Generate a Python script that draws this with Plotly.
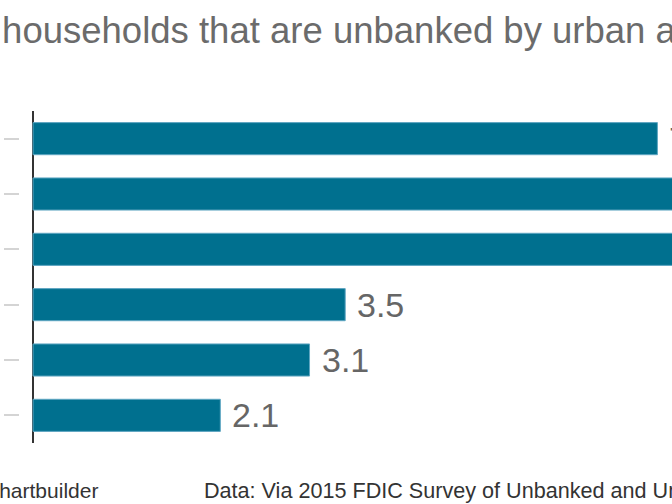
import plotly.graph_objects as go

# Data (top to bottom)
categories = ["Rural", "Principal city", "Small town", "Suburban", "Exurban", "Metro balance"]
values = [7.0, 9.0, 8.6, 3.5, 3.1, 2.1]
value_labels = ["7.0", "9.0", "8.6", "3.5", "3.1", "2.1"]

title_text = "Share of households that are unbanked by urban and rural area"
credit_text = "Chartbuilder"
source_text = "Data: Via 2015 FDIC Survey of Unbanked and Underbanked Households"

W, H = 672, 504
ML, MR, MT, MB = 20, 0, 111, 61
px_per_unit = 89.2
zero_px = 33
x_min = -(zero_px - ML) / px_per_unit
x_max = (W - zero_px) / px_per_unit

FONT = "Liberation Sans, Arial, Helvetica, sans-serif"

fig = go.Figure()
fig.add_trace(go.Bar(
    x=values, y=categories, orientation="h",
    marker=dict(color="#00708f", line=dict(color="#5fa6c2", width=1)),
    hoverinfo="x+y",
))

annotations = []
for v, c, t in zip(values, categories, value_labels):
    annotations.append(dict(
        x=v, y=c, xref="x", yref="y", text=t, showarrow=False,
        xanchor="left", yanchor="middle", xshift=10,
        font=dict(family=FONT, size=34, color="#666666"),
    ))

def px_shift(px):
    return px - ML

# title (its start is cut off at the left edge)
annotations.append(dict(
    x=0, y=1, xref="paper", yref="paper", text=title_text, showarrow=False,
    xanchor="left", yanchor="middle", xshift=px_shift(-148), yshift=81,
    font=dict(family=FONT, size=36.5, color="#6b6b6b"),
))
annotations.append(dict(
    x=0, y=0, xref="paper", yref="paper", text=credit_text, showarrow=False,
    xanchor="left", yanchor="middle", xshift=px_shift(-18), yshift=-47,
    font=dict(family=FONT, size=21, color="#333333"),
))
annotations.append(dict(
    x=0, y=0, xref="paper", yref="paper", text=source_text, showarrow=False,
    xanchor="left", yanchor="middle", xshift=px_shift(202), yshift=-47,
    font=dict(family=FONT, size=21.6, color="#333333"),
))

fig.update_layout(
    width=W, height=H,
    margin=dict(l=ML, r=MR, t=MT, b=MB, pad=0),
    paper_bgcolor="white", plot_bgcolor="white",
    bargap=0.42,
    showlegend=False,
    annotations=annotations,
    xaxis=dict(range=[x_min, x_max], showgrid=False, showticklabels=False,
               zeroline=True, zerolinecolor="#333333", zerolinewidth=1.5,
               showline=False, ticks="", fixedrange=True),
    yaxis=dict(autorange="reversed", showgrid=False, showticklabels=False,
               ticks="outside", ticklen=15, tickwidth=1.5, tickcolor="#d4d4d4",
               showline=False, zeroline=False, fixedrange=True),
    font=dict(family=FONT),
)

fig.write_html(
    "out.html",
    config={"displayModeBar": False},
    post_script="document.body.style.margin='0px';document.body.style.overflow='hidden';",
)
